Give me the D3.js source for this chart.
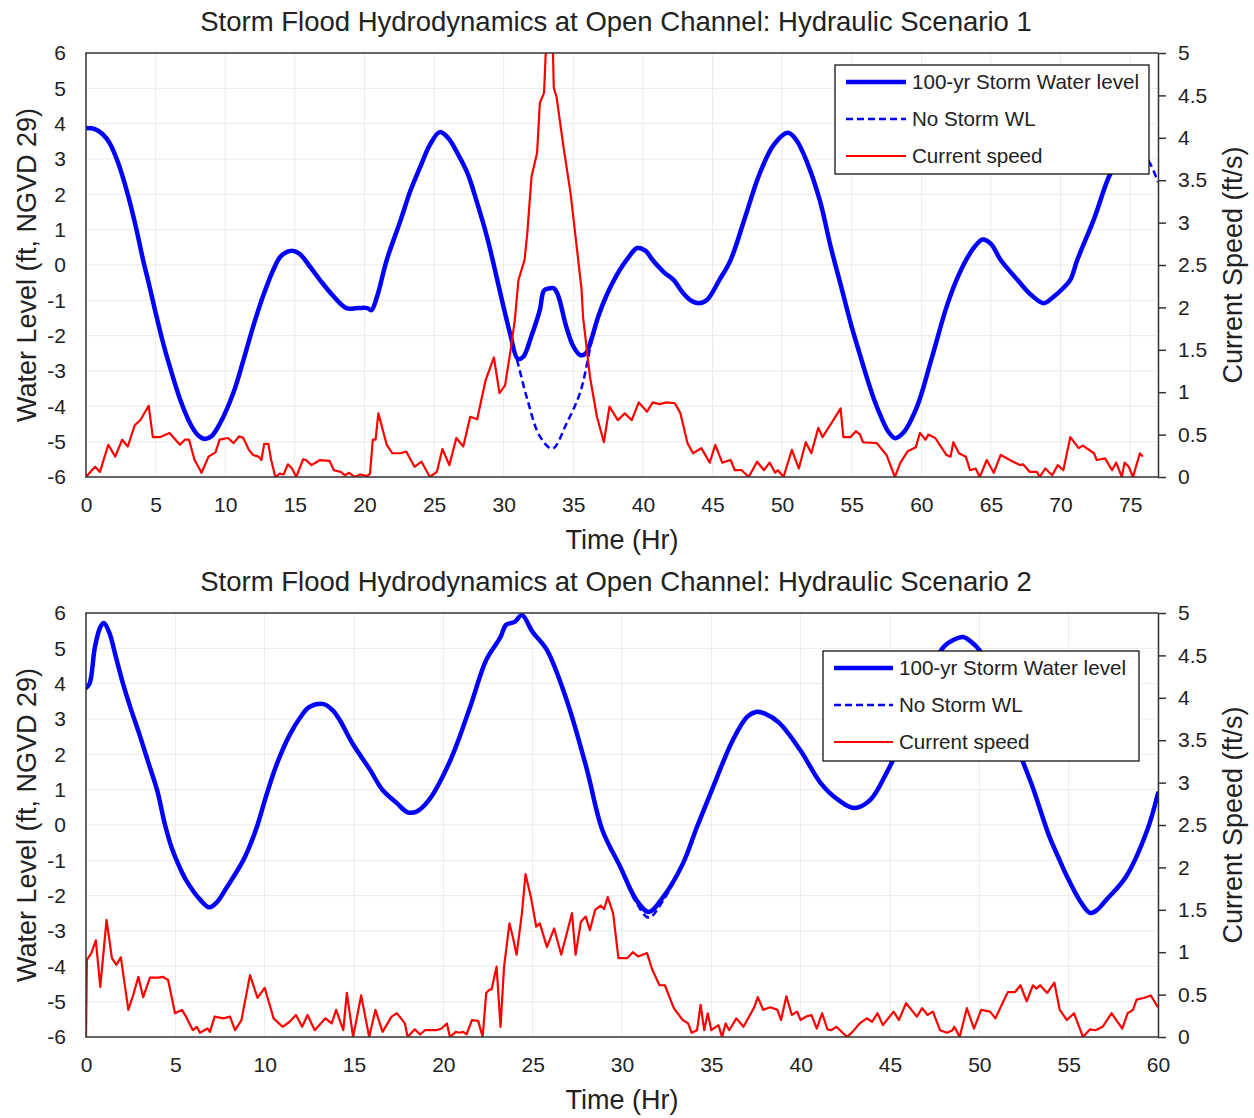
<!DOCTYPE html>
<html>
<head>
<meta charset="utf-8">
<script src="https://d3js.org/d3.v7.min.js"></script>
<style>
body { margin: 0; background: #fff; }
text { font-family: "Liberation Sans", Arial, sans-serif; fill: #222; }
</style>
</head>
<body>
<svg id="chart" width="1254" height="1118"></svg>
<script>
// tick values
const wlTicks = [-6, -5, -4, -3, -2, -1, 0, 1, 2, 3, 4, 5, 6];
const speedTicks = [0, 0.5, 1, 1.5, 2, 2.5, 3, 3.5, 4, 4.5, 5];
const timeTicks1 = [0, 5, 10, 15, 20, 25, 30, 35, 40, 45, 50, 55, 60, 65, 70, 75];
const timeTicks2 = [0, 5, 10, 15, 20, 25, 30, 35, 40, 45, 50, 55, 60];

const legendNames = ["100-yr Storm Water level", "No Storm WL", "Current speed"];

// Scenario 1 : [hour, value]
const stormWL1 = [[0,3.88],[0.6,3.85],[1.2,3.7],[1.7,3.45],[2.3,2.9],[3.0,2.0],[3.6,1.05],[4.1,0.14],[4.5,-0.5],[5.0,-1.35],[5.5,-2.15],[6.0,-2.85],[6.8,-3.85],[7.5,-4.5],[8.0,-4.8],[8.5,-4.92],[9.0,-4.85],[9.6,-4.5],[10.6,-3.6],[11.3,-2.7],[12.0,-1.75],[12.7,-0.9],[13.45,-0.14],[14.0,0.25],[14.7,0.4],[15.3,0.33],[16.0,0.0],[16.8,-0.42],[17.7,-0.85],[18.7,-1.22],[19.5,-1.22],[20.2,-1.22],[20.5,-1.28],[20.9,-0.9],[21.6,0.14],[22.6,1.27],[23.3,2.1],[24.0,2.77],[24.7,3.4],[25.4,3.76],[26.0,3.6],[26.7,3.15],[27.4,2.6],[28.1,1.75],[28.8,0.8],[29.5,-0.35],[30.0,-1.2],[30.5,-2.0],[31.0,-2.65],[31.4,-2.6],[32.0,-2.0],[32.6,-1.27],[32.9,-0.72],[33.3,-0.66],[33.6,-0.66],[33.9,-0.85],[34.5,-1.75],[35.0,-2.3],[35.5,-2.55],[35.9,-2.5],[36.3,-2.1],[36.8,-1.45],[37.4,-0.85],[38.1,-0.3],[38.9,0.18],[39.6,0.48],[40.2,0.4],[40.7,0.14],[41.5,-0.2],[42.2,-0.42],[42.9,-0.8],[43.5,-1.02],[44.0,-1.08],[44.6,-0.99],[45.5,-0.42],[46.3,0.14],[47.3,1.3],[48.4,2.6],[49.4,3.4],[50.4,3.74],[51.0,3.55],[51.8,2.9],[52.7,1.84],[53.5,0.5],[54.2,-0.55],[55.0,-1.75],[55.6,-2.55],[56.1,-3.2],[56.6,-3.8],[57.0,-4.2],[57.6,-4.7],[58.1,-4.9],[58.7,-4.75],[59.7,-4.0],[60.7,-2.7],[61.8,-1.2],[62.5,-0.45],[63.3,0.2],[63.9,0.55],[64.4,0.72],[65.0,0.6],[65.7,0.14],[66.9,-0.42],[67.9,-0.85],[68.8,-1.08],[69.5,-0.9],[70.2,-0.65],[70.7,-0.42],[71.2,0.14],[72.4,1.3],[73.6,2.6],[74.3,2.97],[75.0,3.15],[75.5,3.2],[76.0,3.1]];
const noStormWL1 = [[0,3.88],[0.6,3.85],[1.2,3.7],[1.7,3.45],[2.3,2.9],[3.0,2.0],[3.6,1.05],[4.1,0.14],[4.5,-0.5],[5.0,-1.35],[5.5,-2.15],[6.0,-2.85],[6.8,-3.85],[7.5,-4.5],[8.0,-4.8],[8.5,-4.92],[9.0,-4.85],[9.6,-4.5],[10.6,-3.6],[11.3,-2.7],[12.0,-1.75],[12.7,-0.9],[13.45,-0.14],[14.0,0.25],[14.7,0.4],[15.3,0.33],[16.0,0.0],[16.8,-0.42],[17.7,-0.85],[18.7,-1.22],[19.5,-1.22],[20.2,-1.22],[20.5,-1.28],[20.9,-0.9],[21.6,0.14],[22.6,1.27],[23.3,2.1],[24.0,2.77],[24.7,3.4],[25.4,3.76],[26.0,3.6],[26.7,3.15],[27.4,2.6],[28.1,1.75],[28.8,0.8],[29.5,-0.35],[30.0,-1.2],[30.5,-2.0],[31.0,-2.75],[31.7,-3.8],[32.6,-4.85],[33.5,-5.2],[34.5,-4.5],[35.5,-3.6],[36.3,-2.2],[36.8,-1.45],[37.4,-0.85],[38.1,-0.3],[38.9,0.18],[39.6,0.48],[40.2,0.4],[40.7,0.14],[41.5,-0.2],[42.2,-0.42],[42.9,-0.8],[43.5,-1.02],[44.0,-1.08],[44.6,-0.99],[45.5,-0.42],[46.3,0.14],[47.3,1.3],[48.4,2.6],[49.4,3.4],[50.4,3.74],[51.0,3.55],[51.8,2.9],[52.7,1.84],[53.5,0.5],[54.2,-0.55],[55.0,-1.75],[55.6,-2.55],[56.1,-3.2],[56.6,-3.8],[57.0,-4.2],[57.6,-4.7],[58.1,-4.9],[58.7,-4.75],[59.7,-4.0],[60.7,-2.7],[61.8,-1.2],[62.5,-0.45],[63.3,0.2],[63.9,0.55],[64.4,0.72],[65.0,0.6],[65.7,0.14],[66.9,-0.42],[67.9,-0.85],[68.8,-1.08],[69.5,-0.9],[70.2,-0.65],[70.7,-0.42],[71.2,0.14],[72.4,1.3],[73.6,2.6],[74.3,2.97],[75.0,3.15],[75.5,3.2],[76.0,3.1],[76.4,2.9],[77.0,2.35]];
const speed1 = [[0,0],[0.65,0.12],[1.0,0.06],[1.6,0.38],[2.1,0.24],[2.6,0.44],[3.0,0.36],[3.5,0.61],[3.9,0.67],[4.5,0.84],[4.8,0.47],[5.3,0.47],[6.0,0.52],[6.75,0.38],[7.1,0.44],[7.4,0.44],[7.8,0.2],[8.3,0.05],[8.8,0.24],[9.3,0.29],[9.6,0.44],[10.2,0.46],[10.6,0.4],[11.0,0.48],[11.3,0.46],[11.7,0.32],[12.0,0.26],[12.4,0.24],[12.6,0.2],[12.8,0.39],[13.1,0.39],[13.3,0.2],[13.6,0],[13.9,0.04],[14.2,0.03],[14.5,0.15],[14.8,0.1],[15.1,0],[15.6,0.21],[15.8,0.2],[16.2,0.14],[16.6,0.18],[16.8,0.2],[17.5,0.19],[17.8,0.08],[18.3,0.06],[18.6,0.02],[18.9,0.05],[19.3,0],[19.7,0.03],[20.2,0.01],[20.4,0.04],[20.6,0.44],[20.8,0.44],[21.0,0.75],[21.6,0.38],[22.0,0.28],[22.6,0.28],[23.0,0.3],[23.6,0.12],[24.1,0.18],[24.7,0],[25.2,0.06],[25.6,0.33],[26.1,0.14],[26.6,0.46],[27.1,0.36],[27.6,0.71],[28.1,0.68],[28.7,1.14],[29.3,1.41],[29.7,0.99],[30.1,1.08],[30.5,1.5],[30.8,1.85],[31.06,2.32],[31.5,2.56],[31.7,2.88],[32.0,3.54],[32.4,3.82],[32.6,4.41],[32.9,4.53],[33.1,5.3],[33.5,5.3],[33.6,4.59],[33.8,4.48],[34.3,3.89],[34.8,3.35],[35.3,2.64],[35.6,2.2],[35.7,1.89],[36.2,1.18],[36.7,0.71],[37.2,0.41],[37.6,0.83],[38.2,0.67],[38.7,0.75],[39.2,0.67],[39.7,0.88],[40.3,0.77],[40.7,0.88],[41.2,0.86],[41.7,0.88],[42.3,0.87],[42.7,0.75],[43.2,0.4],[43.6,0.28],[44.2,0.34],[44.8,0.17],[45.2,0.38],[45.7,0.17],[46.3,0.2],[46.6,0.08],[47.1,0.08],[47.6,0],[48.2,0.18],[48.7,0.08],[49.1,0.17],[49.5,0.05],[49.7,0.08],[50.1,0],[50.7,0.32],[51.2,0.1],[51.7,0.41],[52.1,0.28],[52.6,0.58],[52.9,0.47],[53.6,0.65],[54.2,0.81],[54.4,0.47],[54.9,0.47],[55.3,0.54],[55.6,0.5],[55.8,0.41],[56.8,0.4],[57.5,0.26],[58.1,0],[58.5,0.17],[59.0,0.3],[59.6,0.35],[59.9,0.52],[60.3,0.44],[60.5,0.5],[61.0,0.46],[61.8,0.26],[62.1,0.24],[62.3,0.41],[62.7,0.28],[63.2,0.24],[63.5,0.08],[63.9,0.1],[64.2,0],[64.7,0.2],[65.2,0.05],[65.7,0.26],[66.6,0.18],[67.1,0.14],[67.3,0.15],[67.8,0.06],[68.3,0.06],[68.5,0],[68.9,0.1],[69.4,0.02],[69.8,0.14],[70.2,0.08],[70.7,0.47],[71.3,0.34],[71.6,0.37],[72.4,0.28],[72.6,0.2],[73.2,0.22],[73.7,0.08],[74.0,0.17],[74.4,0],[74.6,0.17],[74.9,0.12],[75.2,0],[75.7,0.28],[75.9,0.24]];

// Scenario 2 : [hour, value]
const stormWL2 = [[0,3.88],[0.2,4.0],[0.5,5.04],[0.8,5.6],[1.0,5.72],[1.3,5.45],[1.7,4.7],[2.1,3.95],[2.5,3.3],[3.0,2.55],[3.5,1.75],[4.0,0.95],[4.4,0.05],[4.8,-0.65],[5.2,-1.15],[5.6,-1.56],[6.4,-2.12],[6.9,-2.33],[7.3,-2.2],[7.9,-1.75],[8.8,-1.0],[9.2,-0.55],[9.6,0.0],[10.1,0.85],[10.7,1.75],[11.4,2.55],[12.0,3.05],[12.5,3.34],[13.3,3.42],[13.8,3.25],[14.2,2.97],[14.9,2.32],[15.9,1.56],[16.6,0.99],[17.4,0.62],[18.0,0.36],[18.5,0.38],[19.2,0.71],[20.4,1.84],[21.5,3.34],[22.4,4.67],[23.2,5.32],[23.5,5.66],[24.0,5.75],[24.4,5.94],[25.0,5.46],[25.8,4.95],[26.9,3.54],[28.0,1.64],[28.9,-0.14],[29.9,-1.18],[30.8,-2.12],[31.5,-2.46],[32.3,-2.04],[33.4,-1.1],[34.2,-0.05],[35.1,1.08],[36.2,2.4],[37.0,3.06],[37.5,3.2],[38.0,3.15],[38.8,2.89],[40.0,2.1],[41.1,1.2],[42.0,0.75],[43.0,0.48],[43.9,0.71],[44.8,1.47],[45.5,2.2],[46.5,3.5],[47.4,4.5],[48.0,5.04],[48.6,5.25],[49.1,5.32],[49.5,5.2],[50.0,4.95],[51.2,3.4],[52.4,1.84],[53.0,1.05],[53.9,-0.3],[54.5,-1.0],[54.9,-1.45],[55.6,-2.12],[56.2,-2.49],[56.6,-2.4],[57.1,-2.12],[58.2,-1.47],[59.4,-0.14],[60.0,0.9]];
const noStormWL2 = [[0,3.88],[0.2,4.0],[0.5,5.04],[0.8,5.6],[1.0,5.72],[1.3,5.45],[1.7,4.7],[2.1,3.95],[2.5,3.3],[3.0,2.55],[3.5,1.75],[4.0,0.95],[4.4,0.05],[4.8,-0.65],[5.2,-1.15],[5.6,-1.56],[6.4,-2.12],[6.9,-2.33],[7.3,-2.2],[7.9,-1.75],[8.8,-1.0],[9.2,-0.55],[9.6,0.0],[10.1,0.85],[10.7,1.75],[11.4,2.55],[12.0,3.05],[12.5,3.34],[13.3,3.42],[13.8,3.25],[14.2,2.97],[14.9,2.32],[15.9,1.56],[16.6,0.99],[17.4,0.62],[18.0,0.36],[18.5,0.38],[19.2,0.71],[20.4,1.84],[21.5,3.34],[22.4,4.67],[23.2,5.32],[23.5,5.66],[24.0,5.75],[24.4,5.94],[25.0,5.46],[25.8,4.95],[26.9,3.54],[28.0,1.64],[28.9,-0.14],[29.9,-1.2],[30.8,-2.2],[31.5,-2.62],[32.3,-2.14],[33.4,-1.1],[34.2,-0.05],[35.1,1.08],[36.2,2.4],[37.0,3.06],[37.5,3.2],[38.0,3.15],[38.8,2.89],[40.0,2.1],[41.1,1.2],[42.0,0.75],[43.0,0.48],[43.9,0.71],[44.8,1.47],[45.5,2.2],[46.5,3.5],[47.4,4.5],[48.0,5.04],[48.6,5.25],[49.1,5.32],[49.5,5.2],[50.0,4.95],[51.2,3.4],[52.4,1.84],[53.0,1.05],[53.9,-0.3],[54.5,-1.0],[54.9,-1.45],[55.6,-2.12],[56.2,-2.49],[56.6,-2.4],[57.1,-2.12],[58.2,-1.47],[59.4,-0.14],[60.0,0.9]];
const speed2 = [[0,0],[0.05,0.91],[0.3,0.99],[0.55,1.14],[0.8,0.59],[1.15,1.38],[1.45,0.93],[1.7,0.85],[1.95,0.94],[2.37,0.32],[2.65,0.5],[2.93,0.71],[3.2,0.47],[3.58,0.7],[4.03,0.7],[4.3,0.71],[4.6,0.67],[4.98,0.28],[5.37,0.32],[5.6,0.24],[5.98,0.08],[6.2,0.12],[6.38,0.05],[6.8,0.1],[6.94,0.06],[7.2,0.24],[7.7,0.22],[8.06,0.24],[8.34,0.08],[8.7,0.2],[9.18,0.73],[9.6,0.46],[10.0,0.58],[10.5,0.22],[11.0,0.12],[11.4,0.18],[11.75,0.26],[12.1,0.12],[12.4,0.26],[12.8,0.08],[13.4,0.22],[13.75,0.16],[14.0,0.32],[14.4,0.08],[14.6,0.52],[14.95,0],[15.4,0.49],[15.85,0],[16.2,0.32],[16.6,0.06],[17.1,0.24],[17.4,0.28],[17.85,0.16],[18.0,0],[18.4,0.09],[18.7,0.03],[18.97,0.08],[19.6,0.08],[19.9,0.1],[20.2,0.16],[20.37,0],[20.7,0.06],[20.9,0.05],[21.1,0.06],[21.3,0.03],[21.6,0.2],[21.95,0.19],[22.2,0],[22.4,0.52],[22.6,0.56],[22.7,0.56],[22.98,0.83],[23.2,0.12],[23.4,0.83],[23.7,1.34],[23.9,1.17],[24.1,0.97],[24.4,1.46],[24.6,1.92],[24.9,1.65],[25.2,1.3],[25.4,1.34],[25.8,1.06],[26.2,1.28],[26.6,0.97],[27.2,1.46],[27.4,0.97],[27.7,1.36],[27.97,1.42],[28.2,1.26],[28.5,1.5],[28.8,1.55],[29.0,1.51],[29.2,1.65],[29.5,1.46],[29.8,0.93],[30.3,0.93],[30.6,1.0],[30.9,0.95],[31.4,0.99],[31.7,0.79],[32.1,0.61],[32.4,0.61],[32.9,0.34],[33.4,0.2],[33.7,0.16],[33.9,0.05],[34.2,0.08],[34.4,0.38],[34.6,0.08],[34.8,0.28],[35.0,0.08],[35.4,0.14],[35.6,0],[35.8,0.16],[36.0,0.08],[36.4,0.22],[36.8,0.12],[37.4,0.35],[37.6,0.47],[37.9,0.32],[38.3,0.35],[38.7,0.32],[38.9,0.2],[39.2,0.48],[39.5,0.26],[39.8,0.3],[40.0,0.2],[40.3,0.24],[40.6,0.26],[40.9,0.1],[41.2,0.28],[41.5,0.09],[41.7,0.08],[42.0,0.12],[42.6,0],[42.9,0.06],[43.3,0.16],[43.7,0.22],[44.0,0.18],[44.3,0.28],[44.6,0.14],[45.2,0.3],[45.5,0.2],[45.9,0.4],[46.5,0.24],[46.8,0.34],[47.1,0.26],[47.4,0.3],[47.8,0.08],[48.2,0.05],[48.5,0.08],[48.6,0.12],[48.9,0],[49.3,0.34],[49.7,0.1],[50.1,0.32],[50.6,0.3],[50.9,0.22],[51.3,0.4],[51.6,0.53],[52.0,0.53],[52.3,0.61],[52.65,0.42],[53.0,0.61],[53.2,0.57],[53.4,0.61],[53.8,0.52],[54.2,0.64],[54.5,0.32],[54.9,0.2],[55.3,0.28],[55.8,0],[56.2,0.09],[56.5,0.08],[56.9,0.12],[57.4,0.28],[58.0,0.1],[58.3,0.28],[58.6,0.32],[58.8,0.44],[59.2,0.46],[59.6,0.49],[60,0.35]];

var svg = d3.select("#chart");
var left = 86, right = 1158, plotH = 424;

function drawPanel(p, idx) {
  var x = d3.scaleLinear().domain([0, p.xMax]).range([left, right]);
  var y = d3.scaleLinear().domain([-6, 6]).range([p.top + plotH, p.top]);
  var y2 = d3.scaleLinear().domain([0, 5]).range([p.top + plotH, p.top]);
  var g = svg.append("g");

  // grid
  g.append("g").selectAll("line").data(p.xTicks.filter(d => d > 0)).enter().append("line")
    .attr("x1", d => x(d)).attr("x2", d => x(d)).attr("y1", p.top).attr("y2", p.top + plotH)
    .attr("stroke", "#ebebeb").attr("stroke-width", 1);
  g.append("g").selectAll("line").data(wlTicks.filter(d => d > -6 && d < 6)).enter().append("line")
    .attr("x1", left).attr("x2", right).attr("y1", d => y(d)).attr("y2", d => y(d))
    .attr("stroke", "#ebebeb").attr("stroke-width", 1);

  // clip
  svg.append("clipPath").attr("id", "clip" + idx).append("rect")
    .attr("x", left).attr("y", p.top).attr("width", right - left).attr("height", plotH);

  var lines = g.append("g").attr("clip-path", "url(#clip" + idx + ")");
  var wlLine = d3.line().x(d => x(d[0])).y(d => y(d[1])).curve(d3.curveCatmullRom);
  var spLine = d3.line().x(d => x(d[0])).y(d => y2(d[1]));

  lines.append("path").attr("d", wlLine(p.wl))
    .attr("fill", "none").attr("stroke", "#0000ff").attr("stroke-width", 4.5)
    .attr("stroke-linejoin", "round").attr("stroke-linecap", "round");
  lines.append("path").attr("d", wlLine(p.ns))
    .attr("fill", "none").attr("stroke", "#0000ff").attr("stroke-width", 2.5)
    .attr("stroke-dasharray", "7,4");
  lines.append("path").attr("d", spLine(p.sp))
    .attr("fill", "none").attr("stroke", "#ff0000").attr("stroke-width", 2.2)
    .attr("stroke-linejoin", "round");

  // frame
  g.append("path")
    .attr("d", "M" + right + "," + p.top + "H" + left + "V" + (p.top + plotH) + "H" + right)
    .attr("fill", "none").attr("stroke", "#333").attr("stroke-width", 1.5);

  // axes
  var fmt = d => String(d);
  var ax = g.append("g").attr("transform", "translate(0," + (p.top + plotH) + ")")
    .call(d3.axisBottom(x).tickValues(p.xTicks).tickFormat(fmt).tickSize(0).tickPadding(20));
  var ay = g.append("g").attr("transform", "translate(" + left + ",0)")
    .call(d3.axisLeft(y).tickValues(wlTicks).tickFormat(fmt).tickSize(0).tickPadding(20));
  var ay2 = g.append("g").attr("transform", "translate(" + right + ",0)")
    .call(d3.axisRight(y2).tickValues(speedTicks).tickFormat(fmt).tickSize(8).tickPadding(12).tickSizeOuter(0));
  [ax, ay].forEach(a => a.select(".domain").remove());
  ay2.select(".domain").attr("stroke", "#333").attr("stroke-width", 1.5);
  ay2.selectAll(".tick line").attr("stroke", "#333").attr("stroke-width", 1.5);
  [ax, ay, ay2].forEach(a => a.selectAll("text").attr("font-size", 21)
    .attr("font-family", "Liberation Sans, Arial, sans-serif").attr("fill", "#222"));

  // titles
  g.append("text").attr("x", 616).attr("y", p.titleY).attr("text-anchor", "middle")
    .attr("font-size", 27.5).text(p.title);
  g.append("text").attr("x", (left + right) / 2).attr("y", p.top + plotH + 72).attr("text-anchor", "middle")
    .attr("font-size", 27).text("Time (Hr)");
  g.append("text").attr("transform", "translate(27," + (p.top + plotH / 2) + ") rotate(-90)")
    .attr("dy", "0.35em").attr("text-anchor", "middle").attr("font-size", 27)
    .text("Water Level (ft, NGVD 29)");
  g.append("text").attr("transform", "translate(1233," + (p.top + plotH / 2) + ") rotate(-90)")
    .attr("dy", "0.35em").attr("text-anchor", "middle").attr("font-size", 27)
    .text("Current Speed (ft/s)");

  // legend
  var L = p.legend;
  var lg = g.append("g").attr("transform", "translate(" + L.x + "," + L.y + ")");
  lg.append("rect").attr("width", L.w).attr("height", L.h)
    .attr("fill", "#fff").attr("stroke", "#000").attr("stroke-width", 1.2);
  var styles = [
    {stroke: "#0000ff", w: 4.5, dash: null},
    {stroke: "#0000ff", w: 2.5, dash: "7,4"},
    {stroke: "#ff0000", w: 2.2, dash: null}
  ];
  legendNames.forEach(function(name, i) {
    var yy = 17 + i * 37;
    lg.append("line").attr("x1", 11).attr("x2", L.lineEnd).attr("y1", yy).attr("y2", yy)
      .attr("stroke", styles[i].stroke).attr("stroke-width", styles[i].w)
      .attr("stroke-dasharray", styles[i].dash);
    lg.append("text").attr("x", L.lineEnd + 6).attr("y", yy).attr("dy", "0.35em")
      .attr("font-size", 20.6).text(name);
  });
}

drawPanel({top: 53, xMax: 77, xTicks: timeTicks1, titleY: 31,
  title: "Storm Flood Hydrodynamics at Open Channel: Hydraulic Scenario 1",
  wl: stormWL1, ns: noStormWL1, sp: speed1,
  legend: {x: 835, y: 65, w: 314, h: 109, lineEnd: 71}}, 1);

drawPanel({top: 613, xMax: 60, xTicks: timeTicks2, titleY: 591,
  title: "Storm Flood Hydrodynamics at Open Channel: Hydraulic Scenario 2",
  wl: stormWL2, ns: noStormWL2, sp: speed2,
  legend: {x: 823, y: 651, w: 316, h: 110, lineEnd: 70}}, 2);
</script>
</body>
</html>
